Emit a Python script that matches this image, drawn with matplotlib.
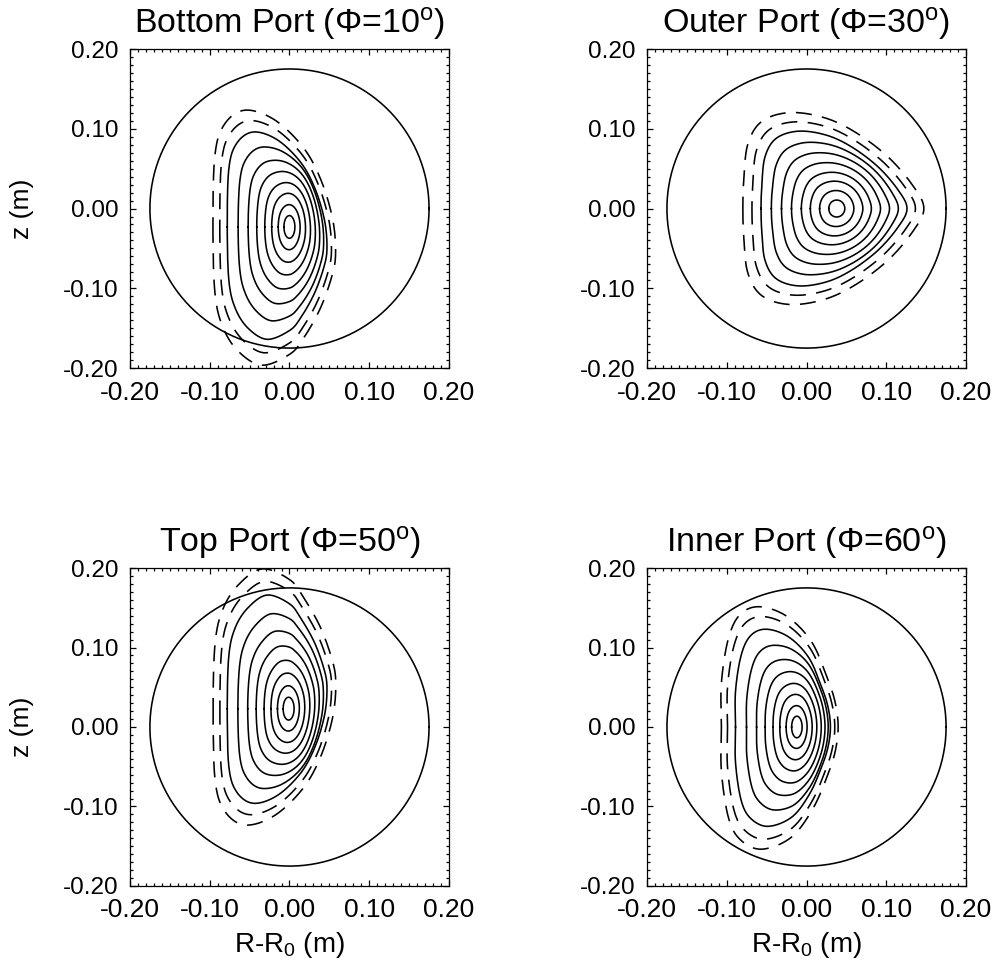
import numpy as np
import matplotlib
matplotlib.use("Agg")
import matplotlib.pyplot as plt
from matplotlib.ticker import MultipleLocator, FormatStrFormatter

plt.rcParams['font.family'] = ['Liberation Sans', 'DejaVu Sans']
plt.rcParams['mathtext.fontset'] = 'custom'
plt.rcParams['mathtext.rm'] = 'Liberation Sans'
plt.rcParams['mathtext.it'] = 'Liberation Sans:italic'
plt.rcParams['axes.unicode_minus'] = False

# --- data (metres) ---
titles = ['Bottom Port (Φ=10$^{\\rm o}$)', 'Outer Port (Φ=30$^{\\rm o}$)',
          'Top Port (Φ=50$^{\\rm o}$)', 'Inner Port (Φ=60$^{\\rm o}$)']
wall_radius = 0.175
tick_values = [-0.20, -0.10, 0.00, 0.10, 0.20]

# bottom port: magnetic axis, outermost closed surface, surface levels
bottom_axis = (0.000, -0.023)
bottom_R = [0.047, 0.044, 0.032, 0.014, -0.015, -0.045, -0.066, -0.076, -0.078,
            -0.076, -0.068, -0.052, -0.028, 0.000, 0.014, 0.031, 0.043]
bottom_z = [-0.050, -0.015, 0.025, 0.058, 0.086, 0.096, 0.082, 0.050, -0.023,
            -0.090, -0.125, -0.150, -0.164, -0.153, -0.137, -0.107, -0.074]
bottom_levels = [0.11, 0.22, 0.34, 0.46, 0.59, 0.72, 0.86, 1.0]
bottom_dashed = [1.12, 1.23]

# outer port
outer_axis = (0.038, 0.000)
outer_R = [0.126, 0.115, 0.090, 0.057, 0.025, -0.010, -0.038, -0.052, -0.056, -0.057,
           -0.056, -0.052, -0.038, -0.010, 0.025, 0.057, 0.090, 0.115]
outer_z = [0.000, 0.023, 0.052, 0.077, 0.092, 0.097, 0.088, 0.065, 0.030, 0.000,
           -0.030, -0.065, -0.088, -0.097, -0.092, -0.077, -0.052, -0.023]
outer_levels = [0.11, 0.235, 0.36, 0.48, 0.61, 0.74, 0.87, 1.0]
outer_dashed = [1.12, 1.24]

# top port
top_axis = (-0.001, 0.023)
top_R = [0.047, 0.044, 0.032, 0.014, -0.015, -0.045, -0.066, -0.076, -0.078,
         -0.076, -0.068, -0.052, -0.028, 0.000, 0.014, 0.031, 0.043]
top_z = [0.050, 0.015, -0.025, -0.058, -0.086, -0.096, -0.082, -0.050, 0.023,
         0.090, 0.125, 0.150, 0.166, 0.155, 0.137, 0.107, 0.074]
top_levels = [0.11, 0.22, 0.34, 0.46, 0.59, 0.72, 0.86, 1.0]
top_dashed = [1.12, 1.23]

# inner port
inner_axis = (-0.012, 0.000)
inner_R = [0.030, 0.027, 0.019, 0.003, -0.022, -0.050, -0.070, -0.082, -0.089, -0.089,
           -0.089, -0.082, -0.070, -0.048, -0.018, 0.004, 0.019, 0.027]
inner_z = [0.000, 0.025, 0.050, 0.087, 0.113, 0.123, 0.115, 0.090, 0.045, 0.000,
           -0.045, -0.092, -0.115, -0.125, -0.113, -0.084, -0.050, -0.025]
inner_levels = [0.11, 0.22, 0.34, 0.46, 0.59, 0.72, 0.86, 1.0]
inner_dashed = [1.13, 1.23]

panels = [
    (bottom_axis, bottom_R, bottom_z, bottom_levels, bottom_dashed),
    (outer_axis, outer_R, outer_z, outer_levels, outer_dashed),
    (top_axis, top_R, top_z, top_levels, top_dashed),
    (inner_axis, inner_R, inner_z, inner_levels, inner_dashed),
]


def smooth_closed(R, z, n=30):
    """closed Catmull-Rom curve through the read points"""
    P = np.column_stack([R, z])
    m = len(P)
    t = np.linspace(0, 1, n, endpoint=False)[:, None]
    segs = []
    for i in range(m):
        p0, p1, p2, p3 = P[i - 1], P[i], P[(i + 1) % m], P[(i + 2) % m]
        segs.append(0.5 * (2 * p1 + (p2 - p0) * t
                           + (2 * p0 - 5 * p1 + 4 * p2 - p3) * t ** 2
                           + (3 * p1 - p0 - 3 * p2 + p3) * t ** 3))
    out = np.vstack(segs)
    return out[:, 0], out[:, 1]


def surface(axis, R, z, level):
    # outer shape near the edge, elliptic near the axis
    Rs, zs = smooth_closed(R, z)
    th = np.arctan2(zs - axis[1], Rs - axis[0])
    r = np.hypot(zs - axis[1], Rs - axis[0])
    order = np.argsort(th)
    theta = np.linspace(-np.pi, np.pi, 721)
    rb = np.interp(theta, th[order], r[order], period=2 * np.pi)
    a = (Rs.max() - Rs.min()) / 2
    b = (zs.max() - zs.min()) / 2
    re = a * b / np.sqrt((b * np.cos(theta)) ** 2 + (a * np.sin(theta)) ** 2)
    w = min(level, 1.0) ** 1.5
    rr = level * (w * rb + (1 - w) * re)
    return axis[0] + rr * np.cos(theta), axis[1] + rr * np.sin(theta)


fig = plt.figure(figsize=(10.02, 9.67), dpi=100)
rects = [[0.1297, 0.6194, 0.3184, 0.3299], [0.6457, 0.6194, 0.3184, 0.3299],
         [0.1297, 0.0838, 0.3184, 0.3288], [0.6457, 0.0838, 0.3184, 0.3288]]

phi = np.linspace(0, 2 * np.pi, 400)
for k, (rect, title, (axis, R, z, levels, dashed)) in enumerate(zip(rects, titles, panels)):
    ax = fig.add_axes(rect)
    ax.plot(wall_radius * np.cos(phi), wall_radius * np.sin(phi), color='black', lw=1.15)
    for lev in levels:
        x, y = surface(axis, R, z, lev)
        ax.plot(x, y, color='black', lw=1.15)
    for lev in dashed:
        x, y = surface(axis, R, z, lev)
        ax.plot(x, y, color='black', lw=1.15, dashes=(10, 6.5))

    ax.set_xlim(-0.2, 0.2)
    ax.set_ylim(-0.2, 0.2)
    ax.set_xticks(tick_values)
    ax.set_yticks(tick_values)
    ax.xaxis.set_minor_locator(MultipleLocator(0.01))
    ax.yaxis.set_minor_locator(MultipleLocator(0.01))
    ax.xaxis.set_major_formatter(FormatStrFormatter('%.2f'))
    ax.yaxis.set_major_formatter(FormatStrFormatter('%.2f'))
    ax.tick_params(which='both', direction='in', top=True, right=True, width=0.9)
    ax.tick_params(which='major', length=4.5)
    ax.tick_params(which='minor', length=2.3)
    ax.tick_params(axis='x', labelsize=19, pad=9)
    ax.tick_params(axis='y', labelsize=17.5, pad=8)
    for sp in ax.spines.values():
        sp.set_linewidth(0.9)
    ax.set_title(title, fontsize=24.5, pad=12)
    if k >= 2:
        ax.set_xlabel('R-R$_{\\rm 0}$ (m)', fontsize=20)
        ax.xaxis.set_label_coords(0.5, -0.138)
        ax.xaxis.label.set_va('top')
    if k % 2 == 0:
        ax.set_ylabel('z (m)', fontsize=19)
        ax.yaxis.set_label_coords(-0.30, 0.5)

fig.savefig('out.png', dpi=100)
